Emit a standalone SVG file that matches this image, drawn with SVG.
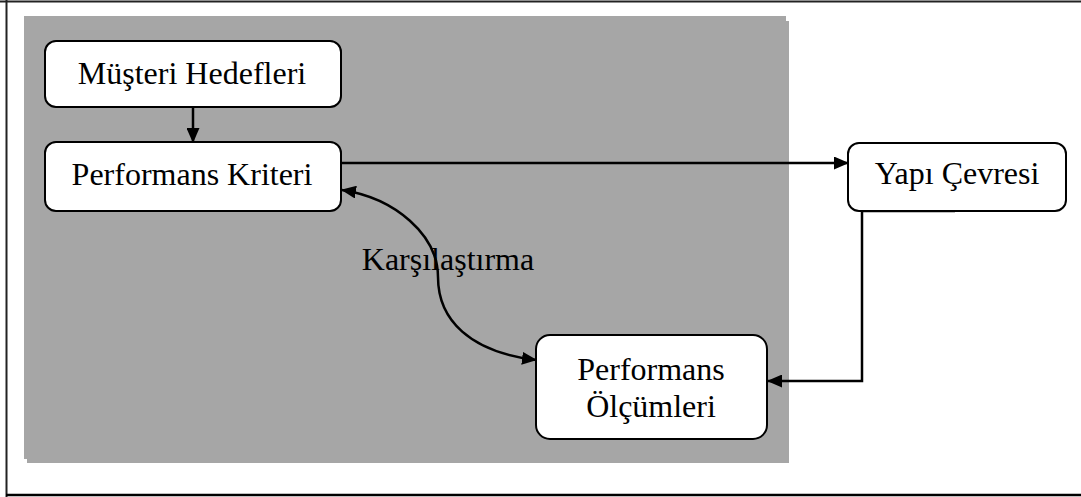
<svg xmlns="http://www.w3.org/2000/svg" width="1081" height="497" viewBox="0 0 1081 497">
<defs>
<style>
.node rect{fill:#fff;stroke:#000;stroke-width:2}
.node text,.lbl{font-family:"Liberation Serif","Times New Roman",serif;font-size:32px;fill:#000;text-anchor:middle}
.conn{fill:none;stroke:#000;stroke-width:2.5}
</style>
<marker id="ah" viewBox="0 0 15 13" refX="14" refY="6.5" markerWidth="15" markerHeight="13" markerUnits="userSpaceOnUse" orient="auto-start-reverse">
<path d="M0,0 L15,6.5 L0,13 z" fill="#000"/>
</marker>
</defs>
<g id="frame">
<line x1="0" y1="1.5" x2="1081" y2="1.5" stroke="#222" stroke-width="2"/>
<line x1="6.5" y1="0" x2="6.5" y2="497" stroke="#222" stroke-width="2"/>
<line x1="6" y1="495" x2="1081" y2="495" stroke="#000" stroke-width="2.5"/>
</g>
<g id="background">
<rect x="27" y="21" width="762" height="442" fill="#a6a6a6"/>
<rect x="24" y="16" width="762" height="443" fill="#a6a6a6"/>
</g>
<g id="connectors">
<line class="conn" x1="193" y1="107" x2="193" y2="142" marker-end="url(#ah)"/>
<line class="conn" x1="341" y1="163" x2="848" y2="163" marker-end="url(#ah)"/>
<path class="conn" d="M862,211 L862,381 L768,381" marker-end="url(#ah)"/>
<line x1="862" y1="211" x2="955" y2="211" stroke="#000" stroke-width="2.5"/>
<path class="conn" d="M342,190 C395,198 438,235 438,277 C438,320 470,352 536,360" marker-start="url(#ah)" marker-end="url(#ah)"/>
<text class="lbl" x="448" y="270">Karşılaştırma</text>
</g>
<g id="musteri" class="node">
<rect x="45" y="41" width="296" height="66" rx="11"/>
<text x="192" y="84">Müşteri Hedefleri</text>
</g>
<g id="kriter" class="node">
<rect x="45" y="142" width="296" height="69" rx="11"/>
<text x="192" y="185">Performans Kriteri</text>
</g>
<g id="yapi" class="node">
<rect x="848" y="143" width="218" height="68" rx="11"/>
<text x="957" y="184">Yapı Çevresi</text>
</g>
<g id="olcum" class="node">
<rect x="536" y="335" width="231" height="104" rx="14"/>
<text x="651" y="380">Performans</text>
<text x="651" y="417">Ölçümleri</text>
</g>
</svg>
